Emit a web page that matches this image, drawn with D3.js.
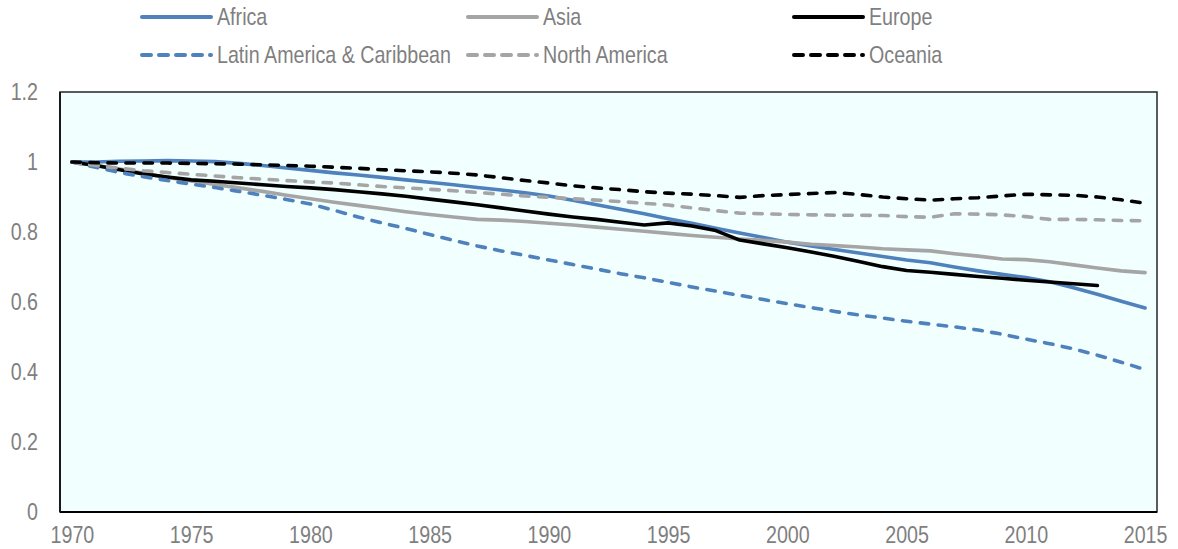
<!DOCTYPE html>
<html>
<head>
<meta charset="utf-8">
<script src="https://cdn.jsdelivr.net/npm/d3@7"></script>
<style>
  html, body { margin: 0; padding: 0; background: #ffffff; }
  svg { display: block; }
  text { font-family: "Liberation Sans", Arial, sans-serif; fill: #7f7f7f; }
</style>
</head>
<body>
<svg id="chart" width="1178" height="549"></svg>
<script>
const years = d3.range(1970, 2016);
const xTickLabels = ["1970","1975","1980","1985","1990","1995","2000","2005","2010","2015"];
const yTickValues = [0, 0.2, 0.4, 0.6, 0.8, 1, 1.2];
const yTickLabels = ["0", "0.2", "0.4", "0.6", "0.8", "1", "1.2"];

const seriesNames = ["Africa", "Asia", "Europe", "Latin America & Caribbean", "North America", "Oceania"];

const africa = [1.0,1.0,1.002,1.003,1.004,1.003,1.001,0.996,0.99,0.983,0.976,0.969,0.963,0.956,0.949,0.942,0.935,0.927,0.92,0.912,0.903,0.891,0.878,0.865,0.852,0.838,0.825,0.811,0.797,0.784,0.771,0.76,0.75,0.74,0.73,0.72,0.712,0.7,0.689,0.679,0.67,0.658,0.641,0.622,0.602,0.583];
const asia = [1.0,0.99,0.98,0.968,0.956,0.946,0.936,0.926,0.916,0.905,0.895,0.885,0.876,0.867,0.858,0.85,0.843,0.836,0.834,0.83,0.825,0.82,0.814,0.808,0.802,0.796,0.79,0.785,0.78,0.776,0.771,0.765,0.761,0.757,0.752,0.749,0.746,0.738,0.731,0.723,0.721,0.715,0.706,0.697,0.689,0.684];
const europe = [1.0,0.99,0.978,0.966,0.957,0.949,0.945,0.94,0.935,0.93,0.926,0.921,0.915,0.909,0.902,0.894,0.886,0.878,0.869,0.86,0.851,0.843,0.836,0.828,0.82,0.826,0.817,0.804,0.777,0.766,0.755,0.743,0.73,0.716,0.701,0.69,0.685,0.679,0.673,0.668,0.662,0.657,0.652,0.647,null,null];
const latinAmerica = [1.0,0.985,0.97,0.958,0.947,0.937,0.927,0.916,0.905,0.893,0.88,0.862,0.843,0.826,0.81,0.793,0.776,0.76,0.746,0.733,0.72,0.707,0.694,0.681,0.669,0.656,0.643,0.631,0.619,0.607,0.595,0.584,0.573,0.563,0.554,0.545,0.537,0.529,0.52,0.508,0.494,0.481,0.466,0.448,0.428,0.407];
const northAmerica = [1.0,0.99,0.982,0.975,0.97,0.965,0.96,0.955,0.951,0.947,0.943,0.94,0.935,0.93,0.926,0.922,0.918,0.913,0.908,0.903,0.899,0.895,0.891,0.887,0.882,0.877,0.869,0.861,0.854,0.852,0.85,0.849,0.848,0.848,0.847,0.844,0.842,0.852,0.851,0.849,0.844,0.836,0.836,0.835,0.833,0.832];
const oceania = [1.0,0.998,0.997,0.997,0.997,0.996,0.995,0.994,0.992,0.99,0.988,0.985,0.982,0.978,0.975,0.972,0.968,0.963,0.955,0.947,0.94,0.932,0.926,0.921,0.915,0.911,0.908,0.904,0.899,0.904,0.907,0.91,0.913,0.907,0.9,0.895,0.891,0.895,0.898,0.903,0.908,0.906,0.905,0.9,0.892,0.882];

const seriesValues = [africa, asia, europe, latinAmerica, northAmerica, oceania];
const seriesColors = ["#4f81bd", "#a5a5a5", "#000000", "#4f81bd", "#a5a5a5", "#000000"];
const seriesDashed = [false, false, false, true, true, true];

const NARROW = 0.82; // horizontal squeeze to imitate a narrow typeface
const svg = d3.select("#chart");
const plot = { left: 60, right: 1157, top: 92, bottom: 512 };

const x = d3.scalePoint().domain(years).range([plot.left, plot.right]).padding(0.5);
const y = d3.scaleLinear().domain([0, 1.2]).range([plot.bottom, plot.top]);

// plot background
svg.append("rect")
  .attr("x", plot.left).attr("y", plot.top)
  .attr("width", plot.right - plot.left).attr("height", plot.bottom - plot.top)
  .attr("fill", "#f2ffff").attr("stroke", "#262626").attr("stroke-width", 1.5);

// lines
const line = d3.line()
  .defined(d => d.v !== null)
  .x(d => x(d.year))
  .y(d => y(d.v));

seriesValues.forEach((vals, i) => {
  const data = years.map((yr, j) => ({ year: yr, v: vals[j] }));
  svg.append("path")
    .datum(data)
    .attr("fill", "none")
    .attr("stroke", seriesColors[i])
    .attr("stroke-width", 3.6)
    .attr("stroke-linejoin", "round")
    .attr("stroke-linecap", "round")
    .attr("stroke-dasharray", seriesDashed[i] ? "8.5,9.5" : null)
    .attr("d", line);
});

// axis lines
svg.append("line")
  .attr("x1", plot.left).attr("x2", plot.right)
  .attr("y1", plot.bottom).attr("y2", plot.bottom)
  .attr("stroke", "#000").attr("stroke-width", 2);
svg.append("line")
  .attr("x1", plot.left).attr("x2", plot.left)
  .attr("y1", plot.top).attr("y2", plot.bottom)
  .attr("stroke", "#1a1a1a").attr("stroke-width", 2);

// x axis labels
const xAxis = d3.axisBottom(x)
  .tickValues(xTickLabels.map(Number))
  .tickSize(0)
  .tickPadding(14)
  .tickFormat((d, i) => xTickLabels[i]);
const gx = svg.append("g").attr("transform", `translate(0,${plot.bottom})`).call(xAxis);
gx.select(".domain").remove();
gx.selectAll("text").attr("font-size", 24).attr("fill", "#7f7f7f")
  .style("font-family", '"Liberation Sans", Arial, sans-serif')
  .attr("transform", `scale(${NARROW},1)`);

// y axis labels
const yAxis = d3.axisLeft(y)
  .tickValues(yTickValues)
  .tickSize(0)
  .tickPadding(22)
  .tickFormat((d, i) => yTickLabels[i]);
const gy = svg.append("g").attr("transform", `translate(${plot.left},0)`).call(yAxis);
gy.select(".domain").remove();
gy.selectAll("text").attr("font-size", 24).attr("fill", "#7f7f7f")
  .style("font-family", '"Liberation Sans", Arial, sans-serif')
  .attr("x", -22 / NARROW)
  .attr("transform", `scale(${NARROW},1)`);

// legend
const legendCols = [142, 468, 794];
const legendRows = [17, 55];
seriesNames.forEach((name, i) => {
  const cx = legendCols[i % 3];
  const cy = legendRows[Math.floor(i / 3)];
  const g = svg.append("g").attr("transform", `translate(${cx},${cy})`);
  g.append("line")
    .attr("x1", 0).attr("x2", 69).attr("y1", 0).attr("y2", 0)
    .attr("stroke", seriesColors[i]).attr("stroke-width", 4)
    .attr("stroke-linecap", "round")
    .attr("stroke-dasharray", seriesDashed[i] ? "9,8" : null);
  g.append("text")
    .attr("x", 75 / NARROW).attr("y", 0).attr("dy", "0.35em")
    .attr("font-size", 24)
    .attr("transform", `scale(${NARROW},1)`)
    .text(name);
});
</script>
</body>
</html>
